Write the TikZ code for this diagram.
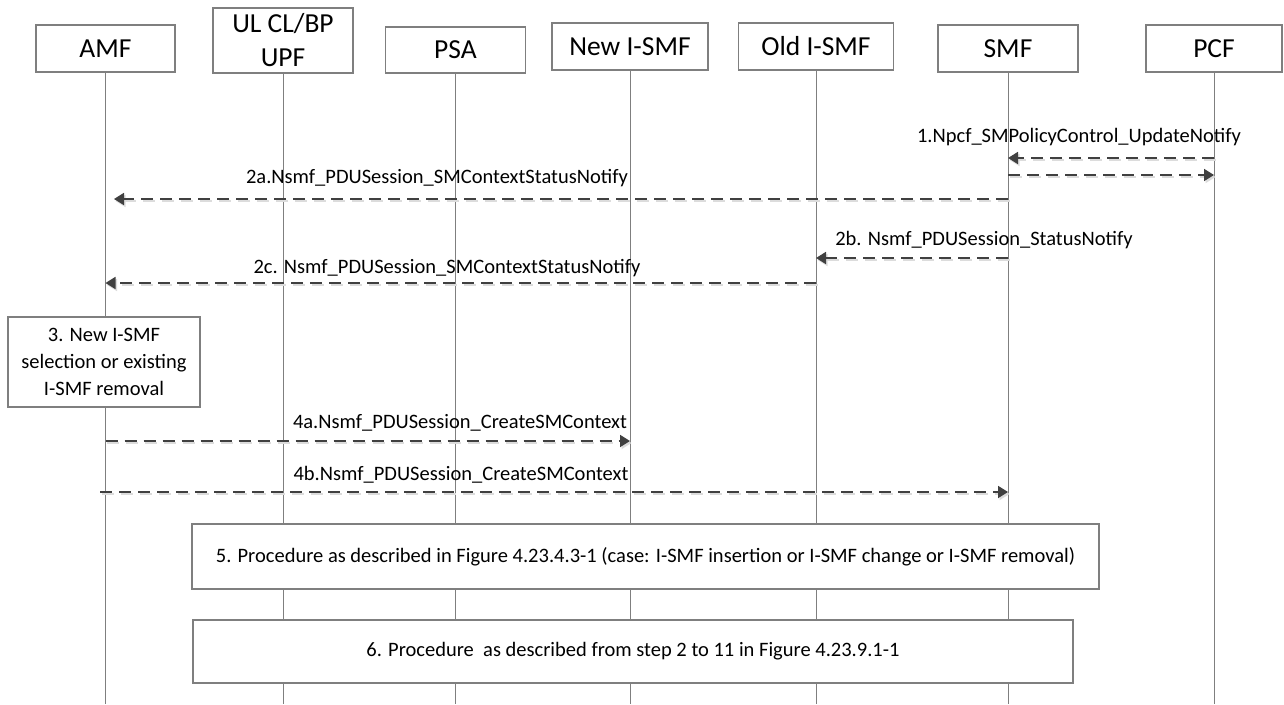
\documentclass[tikz,border=0pt]{standalone}
\usepackage{fontspec}
\setmainfont{Carlito}
\usetikzlibrary{arrows.meta}
\definecolor{boxgray}{HTML}{7F7F7F}
\definecolor{arrgray}{HTML}{404040}
\definecolor{shadowgray}{HTML}{DCDCDC}
\newcommand\seqmsg[2]{%
  \draw[msgshadow] (#1) -- (#2);
  \draw[msg] (#1) -- (#2);}
\begin{document}
\begin{tikzpicture}[x=1pt,y=-1pt,
  hdr/.style={draw=boxgray, line width=1.2pt, fill=white, inner sep=0pt,
    font=\fontsize{27.5}{34}\selectfont, align=center},
  stepbox/.style={draw=boxgray, line width=1.2pt, fill=white, inner sep=0pt,
    font=\fontsize{20.5}{27}\selectfont, align=center},
  lifeline/.style={draw=boxgray, line width=1pt},
  msg/.style={draw=arrgray, line width=1.8pt, dash pattern=on 12pt off 7pt,
    -{Triangle[length=10pt,width=12pt]}},
  msgshadow/.style={draw=shadowgray, line width=1.8pt, dash pattern=on 12pt off 7pt,
    -{Triangle[length=10pt,width=12pt]}, transform canvas={shift={(1.5pt,-2pt)}}},
  lbl/.style={font=\fontsize{20.5}{24}\selectfont, inner sep=0pt}]
\useasboundingbox[fill=white] (0,0) rectangle (1284,704);

% header boxes
\node[hdr, minimum width=139, minimum height=47] (AMF) at (105.5,48.5) {AMF};
\node[hdr, minimum width=140, minimum height=65] (UPF) at (283,40.5) {UL CL/BP\\UPF};
\node[hdr, minimum width=140, minimum height=46] (PSA) at (455.5,50) {PSA};
\node[hdr, minimum width=156, minimum height=47] (NISMF) at (630,46.5) {New I-SMF};
\node[hdr, minimum width=155, minimum height=47] (OISMF) at (816,46.5) {Old I-SMF};
\node[hdr, minimum width=140, minimum height=47] (SMF) at (1008,48.5) {SMF};
\node[hdr, minimum width=136, minimum height=47] (PCF) at (1214,48.5) {PCF};

% lifelines
\foreach \n in {AMF,UPF,PSA,NISMF,OISMF,SMF,PCF}
  \draw[lifeline] (\n.south) -- (\n.south |- 0,704);

% message end points on lifelines
\coordinate (p1) at (PCF.south |- 0,158);
\coordinate (s1) at (SMF.south |- 0,158);
\coordinate (s1b) at (SMF.south |- 0,175);
\coordinate (p1b) at (PCF.south |- 0,175);
\coordinate (s2a) at (SMF.south |- 0,199);
\coordinate (a2a) at (114,199);
\coordinate (s2b) at (SMF.south |- 0,258);
\coordinate (o2b) at (OISMF.south |- 0,258);
\coordinate (o2c) at (OISMF.south |- 0,283);
\coordinate (a2c) at (AMF.south |- 0,283);
\coordinate (a4a) at (AMF.south |- 0,441);
\coordinate (n4a) at (NISMF.south |- 0,441);
\coordinate (a4b) at (100,492);
\coordinate (s4b) at (SMF.south |- 0,492);

\seqmsg{p1}{s1}
\seqmsg{s1b}{p1b}
\seqmsg{s2a}{a2a}
\seqmsg{s2b}{o2b}
\seqmsg{o2c}{a2c}
\seqmsg{a4a}{n4a}
\seqmsg{a4b}{s4b}

% labels
\node[lbl] (l1) at (1079,137) {1.Npcf\_SMPolicyControl\_UpdateNotify};
\node[lbl] (l2a) at (437,178) {2a.Nsmf\_PDUSession\_SMContextStatusNotify};
\node[lbl] (l2b) at (984,240) {2b. Nsmf\_PDUSession\_StatusNotify};
\node[lbl] (l2c) at (447,268) {2c. Nsmf\_PDUSession\_SMContextStatusNotify};
\node[lbl] (l4a) at (460,423) {4a.Nsmf\_PDUSession\_CreateSMContext};
\node[lbl] (l4b) at (461,475) {4b.Nsmf\_PDUSession\_CreateSMContext};

% step boxes
\node[stepbox, minimum width=192, minimum height=90] (b3) at (104,362)
  {3. New I-SMF\\selection or existing\\I-SMF removal};
\node[stepbox, minimum width=907, minimum height=65] (b5) at (645.5,556.5)
  {5. Procedure as described in Figure 4.23.4.3-1 (case: I-SMF insertion or I-SMF change or I-SMF removal)};
\node[stepbox, minimum width=880, minimum height=63] (b6) at (633,651.5)
  {6. Procedure \ as described from step 2 to 11 in Figure 4.23.9.1-1};
\end{tikzpicture}
\end{document}
